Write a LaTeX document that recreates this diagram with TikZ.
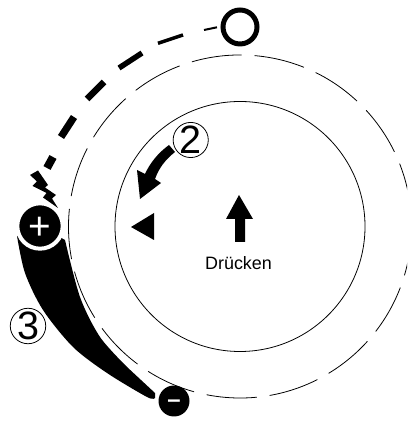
\documentclass[tikz,border=0pt]{standalone}
\usepackage{fontspec}
\setmainfont{Liberation Sans}
\usepackage{tikz}
\usetikzlibrary{positioning}

\newcommand{\polesign}[2]{\smash{\raisebox{#1}{#2}}}

\tikzset{
	ringline/.style={line width=0.45pt},
	numcircle/.style={circle, draw, ringline, fill=white, inner sep=0pt, minimum size=0.7cm, font=\fontsize{22.5}{22.5}\selectfont},
	polecircle/.style={circle, fill=black, text=white, inner sep=0pt, font=\fontsize{22}{22}\selectfont}
}

\begin{document}
\begin{tikzpicture}[x=0.02cm, y=0.02cm]
	\clip (0,0) rectangle (407,421);
	% Inner and dashed outer circle
	\coordinate (centre) at (240,194.5);
	\draw[ringline] (centre) circle[radius=125];
	\draw[ringline, dash pattern=on 1.01cm off 0.2577cm] (centre) ++(85:171.5) arc[start angle=85, end angle=-275, radius=171.5];
	% Tapering dashes of the path
	\foreach \xa/\ya/\xb/\yb/\w in {217/393.7/204/391/0.04, 183/386/158/377.7/0.07, 142/368/119/353/0.11, 104/339/87/322/0.13, 74/304/61/284/0.145, 53/264/47/253/0.16}
		\draw[line width=\w cm] (\xa,\ya) -- (\xb,\yb);
	% Crescent
	\fill plot[smooth] coordinates {(17,185) (25,148) (43,111) (73,74) (107,48) (147,24) (155,23)} -- (155,28) -- plot[smooth] coordinates {(127,54) (100,84) (80,124) (65,181)} -- (40,195) -- cycle;
	% Pole circles
	\node[polecircle, draw=white, line width=0.08cm, minimum size=0.908cm] (plus) at (40,195) {\polesign{-7.7pt}{+}};
	\node[polecircle, minimum size=0.62cm] (minus) at (174,20) {\fontsize{13.6}{13.6}\selectfont\bfseries\polesign{-3.6pt}{–}};
	\node[circle, draw, line width=0.1cm, inner sep=0pt, minimum size=0.68cm] (start) at (240,394) {};
	% Spark
	\fill (30,246) -- (38,250.5) -- (48,236) -- (45,233.5) -- (56,226) -- (52,222.5) -- (58,213) -- (43,223.5) -- (46.5,228) -- (32.5,235) -- (37,239.5) -- cycle;
	% Curved arrow, turning mark, push arrow
	\fill (169,276) .. controls (158,268) and (150,258) .. (145,247) -- (137,251) -- (140,222) -- (161,238) -- (155,242) .. controls (159,253) and (165,261) .. (175,269) -- cycle;
	\fill (131,194) -- (154,208) -- (154,181) -- cycle;
	\fill (239,226) -- (253,202) -- (245,202) -- (245,179) -- (235,179) -- (235,202) -- (226,202) -- cycle;
	\node[font=\fontsize{10.2}{10.2}\selectfont, anchor=base] (push) at (238.5,151.7) {Drücken};
	% Numbers
	\node[numcircle] (two) at (190.7,281) {2};
	\node[numcircle] (three) at (28,95) {3};
\end{tikzpicture}
\end{document}
